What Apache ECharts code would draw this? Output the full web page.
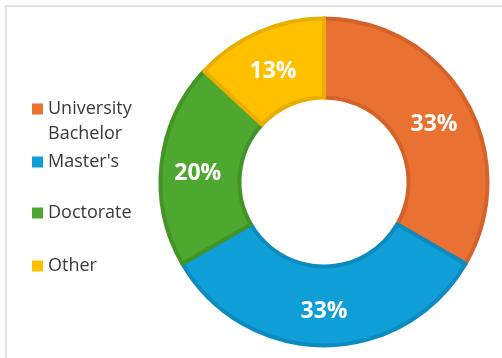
<!DOCTYPE html>
<html>
<head>
<meta charset="utf-8">
<style>
  html, body { margin: 0; padding: 0; background: #ffffff; }
  #frame {
    position: absolute; left: 5px; top: 5px; width: 497px; height: 353px;
    border-left: 2px solid #e2e2e2; border-top: 2px solid #e2e2e2;
  }
  #chart { position: absolute; left: 0; top: 0; width: 502px; height: 358px; }
</style>
<script src="https://cdn.jsdelivr.net/npm/echarts@6/dist/echarts.min.js"></script>
</head>
<body>
<div id="frame"></div>
<div id="chart"></div>
<script>
// Share of respondents by highest degree
const categories = ['University Bachelor', "Master's", 'Doctorate', 'Other'];
const shares = [33, 33, 20, 13];
// the leading blank line keeps the icon beside the first line of a wrapped name
const legendLabels = ['\nUniversity\nBachelor', "Master's", 'Doctorate', 'Other'];

const fills = ['#E97132', '#0F9ED5', '#4EA72E', '#FFC000'];
const edges = ['#D4632A', '#0C8BC0', '#429427', '#E8AE00'];
const legendTops = [71.5, 149.5, 200.5, 253.5];

const chart = echarts.init(document.getElementById('chart'));

const legends = categories.map((name, i) => ({
  orient: 'vertical',
  left: 32,
  top: legendTops[i],
  padding: 0,
  data: [name],
  icon: 'rect',
  itemWidth: 11,
  itemHeight: 11,
  itemGap: 0,
  selectedMode: false,
  itemStyle: { borderWidth: 0 },
  formatter: () => legendLabels[i],
  textStyle: {
    fontFamily: '"Open Sans", sans-serif',
    fontSize: 18,
    color: '#3a3a3a',
    lineHeight: 25
  }
}));

chart.setOption({
  animation: false,
  legend: legends,
  series: [{
    type: 'pie',
    center: [324, 182],
    radius: [84.5, 163.5],
    startAngle: 90,
    clockwise: true,
    avoidLabelOverlap: false,
    label: {
      show: true,
      position: 'inside',
      formatter: '{c}%',
      color: '#ffffff',
      fontFamily: '"Open Sans", sans-serif',
      fontWeight: 'bold',
      fontSize: 23,
      offset: [0, 6]
    },
    labelLine: { show: false },
    emphasis: { disabled: true },
    data: categories.map((name, i) => ({
      name: name,
      value: shares[i],
      itemStyle: { color: fills[i], borderColor: edges[i], borderWidth: 4 },
      label: i === 1 ? { offset: [0, 2] } : undefined
    }))
  }]
});
</script>
</body>
</html>
